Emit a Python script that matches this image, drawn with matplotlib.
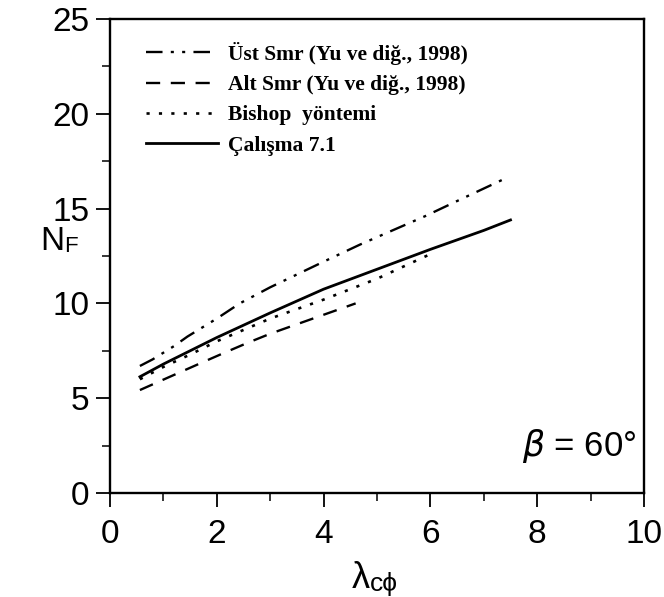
"""
N_F versus lambda_c-phi for beta = 60 deg, four solutions compared
"""

import matplotlib
matplotlib.use('Agg')
import matplotlib.pyplot as plt
from matplotlib.ticker import MultipleLocator

# upper bound (Yu et al., 1998)
ust_x = [0.56, 0.8, 1.2, 1.45, 2.0, 2.43, 3.0, 4.0, 4.68, 5.9, 6.5, 7.41]
ust_y = [6.7, 7.05, 7.75, 8.25, 9.2, 10.0, 10.85, 12.2, 13.1, 14.6, 15.4, 16.6]

# lower bound (Yu et al., 1998)
alt_x = [0.56, 1.12, 1.69, 2.12, 2.56, 3.0, 4.0, 4.6]
alt_y = [5.43, 6.13, 6.84, 7.37, 7.9, 8.4, 9.4, 10.0]

# Bishop method
bishop_x = [0.56, 1.0, 1.5, 2.0, 3.0, 4.0, 5.0, 6.0]
bishop_y = [6.0, 6.65, 7.3, 8.0, 9.2, 10.2, 11.3, 12.6]

# this study
calisma_x = [0.56, 1.0, 1.5, 2.0, 3.0, 4.0, 5.0, 6.0, 7.0, 7.5]
calisma_y = [6.13, 6.8, 7.5, 8.2, 9.5, 10.75, 11.8, 12.85, 13.85, 14.4]

labels = ['Üst Smr (Yu ve diğ., 1998)', 'Alt Smr (Yu ve diğ., 1998)',
          'Bishop  yöntemi', 'Çalışma 7.1']

plt.rcParams['font.family'] = ['Liberation Sans', 'DejaVu Sans']

fig = plt.figure(figsize=(6.64, 5.97), dpi=100)
ax = fig.add_axes([110 / 664, 1 - 493 / 597, 534 / 664, 474 / 597])

ax.plot(ust_x, ust_y, color='black', lw=1.7,
        linestyle=(0, (7, 3.5, 1.3, 3.5, 1.3, 3.5)), label=labels[0])
ax.plot(alt_x, alt_y, color='black', lw=1.7,
        linestyle=(0, (6, 4.5)), label=labels[1])
ax.plot(bishop_x, bishop_y, color='black', lw=1.9,
        linestyle=(0, (1.2, 3.5)), label=labels[2])
ax.plot(calisma_x, calisma_y, color='black', lw=2.0,
        linestyle='-', label=labels[3])

ax.set_xlim(0, 10)
ax.set_ylim(0, 25)
ax.xaxis.set_major_locator(MultipleLocator(2))
ax.xaxis.set_minor_locator(MultipleLocator(1))
ax.yaxis.set_major_locator(MultipleLocator(5))
ax.yaxis.set_minor_locator(MultipleLocator(2.5))
ax.tick_params(which='major', direction='out', length=10, width=1.3,
               labelsize=24, pad=5)
ax.tick_params(axis='x', which='major', pad=9)
ax.tick_params(which='minor', direction='out', length=6, width=1.1)
for sp in ax.spines.values():
    sp.set_linewidth(1.7)

leg = ax.legend(loc='upper left', bbox_to_anchor=(0.032, 0.993), frameon=False,
                handlelength=3.3, handletextpad=0.5, labelspacing=0.48,
                prop={'family': 'Liberation Serif', 'weight': 'bold', 'size': 15.5})

# y label: N with a smaller F
n_txt = fig.text(40 / 664, 1 - 250 / 597, 'N', fontsize=24, ha='left', va='baseline')
ax.annotate('F', xy=(1, 0), xycoords=n_txt, fontsize=16, ha='left', va='bottom')

# x label: lambda with smaller c-phi
l_txt = fig.text(352 / 664, 1 - 588 / 597, 'λ', fontsize=26, ha='left', va='baseline')
ax.annotate('cϕ', xy=(1, 0), xycoords=l_txt, fontsize=19, ha='left', va='bottom')

ax.text(0.985, 2.5 / 25, r'$\beta$ = 60°', transform=ax.transAxes,
        fontsize=25, ha='right', va='center')

fig.savefig('out.png', dpi=100)
